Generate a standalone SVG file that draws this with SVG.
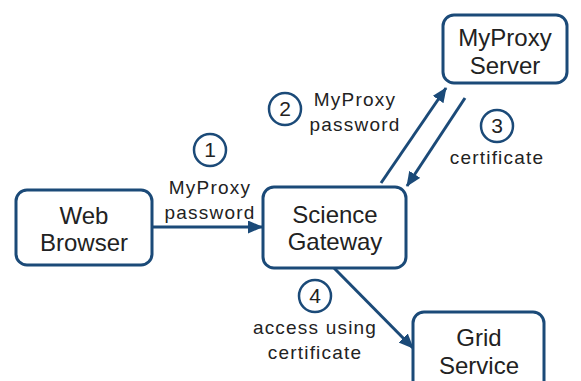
<svg xmlns="http://www.w3.org/2000/svg" width="581" height="381" viewBox="0 0 581 381">
<style>
.box{fill:#fff;stroke:#1b4a78;stroke-width:3}
.nt{font-family:"Liberation Sans",Arial,sans-serif;font-size:24px;fill:#222;text-anchor:middle}
.lb{font-family:"Liberation Sans",Arial,sans-serif;font-size:19px;fill:#222;text-anchor:middle;letter-spacing:1.2px}
.num{font-family:"Liberation Sans",Arial,sans-serif;font-size:21px;fill:#222;text-anchor:middle}
.cir{fill:#fff;stroke:#1b4a78;stroke-width:2.5}
.ln{stroke:#1b4a78;stroke-width:3;fill:none;marker-end:url(#ah)}
</style>
<defs>
<marker id="ah" markerUnits="userSpaceOnUse" markerWidth="16" markerHeight="14" refX="14" refY="6.5" orient="auto">
<path d="M0,0 L15,6.5 L0,13 z" fill="#1b4a78"/>
</marker>
</defs>
<g id="connectors">
<line class="ln" x1="152" y1="227" x2="262" y2="227"/>
<line class="ln" x1="381" y1="183" x2="446" y2="88"/>
<line class="ln" x1="465" y1="98" x2="407" y2="186"/>
<line class="ln" x1="334" y1="268" x2="413" y2="348"/>
</g>
<g id="web-browser">
<rect class="box" x="16" y="190" width="136" height="75" rx="11"/>
<text class="nt" x="84" y="224">Web</text>
<text class="nt" x="84" y="251">Browser</text>
</g>
<g id="science-gateway">
<rect class="box" x="263" y="187" width="143" height="81" rx="11"/>
<text class="nt" x="335" y="223">Science</text>
<text class="nt" x="335" y="250">Gateway</text>
</g>
<g id="myproxy-server">
<rect class="box" x="443" y="15" width="124" height="68" rx="11"/>
<text class="nt" x="505" y="46">MyProxy</text>
<text class="nt" x="505" y="74">Server</text>
</g>
<g id="grid-service">
<rect class="box" x="413" y="312" width="131" height="80" rx="11"/>
<text class="nt" x="479" y="346">Grid</text>
<text class="nt" x="479" y="374">Service</text>
</g>
<g id="step1">
<circle class="cir" cx="210" cy="150" r="16"/>
<text class="num" x="210" y="157">1</text>
<text class="lb" x="210" y="194">MyProxy</text>
<text class="lb" x="210" y="219">password</text>
</g>
<g id="step2">
<circle class="cir" cx="285" cy="109" r="16"/>
<text class="num" x="285" y="116">2</text>
<text class="lb" x="355" y="106">MyProxy</text>
<text class="lb" x="355" y="131">password</text>
</g>
<g id="step3">
<circle class="cir" cx="497" cy="126" r="16"/>
<text class="num" x="497" y="133">3</text>
<text class="lb" x="497" y="164">certificate</text>
</g>
<g id="step4">
<circle class="cir" cx="315" cy="296" r="16"/>
<text class="num" x="315" y="303">4</text>
<text class="lb" x="315" y="334">access using</text>
<text class="lb" x="315" y="359">certificate</text>
</g>
</svg>
